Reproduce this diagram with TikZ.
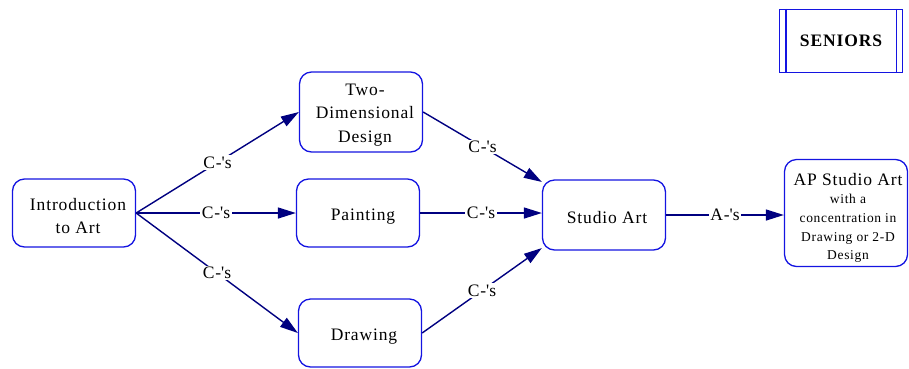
\documentclass[tikz,border=0pt]{standalone}
\usepackage{fontspec}
\setmainfont{Liberation Serif}[LetterSpace=5]
\usepackage{xcolor}
\usepackage{tikz}
\usetikzlibrary{arrows.meta}

\definecolor{courseblue}{RGB}{20,20,225}
\definecolor{pathnavy}{RGB}{0,0,128}

\tikzset{
    course/.style={draw=courseblue, line width=1.3pt, rounded corners=12pt,
        minimum width=123pt, minimum height=#1, inner sep=0pt},
    coursetext/.style={align=center, inner sep=0pt,
        font=\fontsize{17.5}{23.5}\selectfont},
    prereq/.style={draw=pathnavy, line width=1.4pt,
        -{Triangle[length=18pt, width=11pt]}},
    grade/.style={fill=white, inner sep=1.5pt, text=black,
        font=\fontsize{17.5}{20}\selectfont}
}

\begin{document}
\begin{tikzpicture}[x=1pt, y=-1pt]
    \useasboundingbox (0,0) rectangle (909,368);

    % Course boxes
    \node[course=68pt] (intro) at (74,213) {};
    \node[course=80pt] (twodim) at (361,112) {};
    \node[course=68pt] (painting) at (358,213) {};
    \node[course=68pt] (drawing) at (360,333) {};
    \node[course=70pt] (studio) at (604,215) {};
    \node[course=107pt] (apstudio) at (846,213) {};

    % Course names, set a little right of and below the box centres
    \node[coursetext] (introtext) at ([shift={(4,3)}]intro) {Introduction\\to Art};
    \node[coursetext] (twodimtext) at ([shift={(4,3)}]twodim) {Two-\\Dimensional\\Design};
    \node[coursetext] (paintingtext) at ([shift={(5,3.5)}]painting) {Painting};
    \node[coursetext] (drawingtext) at ([shift={(4,3.5)}]drawing) {Drawing};
    \node[coursetext] (studiotext) at ([shift={(3,3)}]studio) {Studio Art};
    \node[coursetext, font=\fontsize{13.5}{18.8}\selectfont] (apstudiotext) at ([shift={(2,5)}]apstudio)
        {{\fontsize{17.5}{19}\selectfont AP Studio Art}\\[-0.5pt]with a\\concentration in\\Drawing or 2-D\\Design};

    % Seniors box with the double side bars
    \node[draw=courseblue, line width=1.3pt, minimum width=123pt, minimum height=63pt,
          font=\fontsize{17.5}{20}\selectfont\bfseries] (seniors) at (841,41) {SENIORS};
    \draw[courseblue, line width=1.3pt] ([xshift=7pt]seniors.north west) -- ([xshift=7pt]seniors.south west);
    \draw[courseblue, line width=1.3pt] ([xshift=-7pt]seniors.north east) -- ([xshift=-7pt]seniors.south east);

    % First year choices
    \draw[prereq] (intro.east) -- node[grade] {C-\textquotesingle{}s} (twodim.west);
    \draw[prereq] (intro.east) -- node[grade] {C-\textquotesingle{}s} (painting.west);
    \draw[prereq] (intro.east) -- node[grade] {C-\textquotesingle{}s} (drawing.west);

    % On to studio art
    \draw[prereq] (twodim.east) -- node[grade] {C-\textquotesingle{}s} (studio.152);
    \draw[prereq] (painting.east) -- node[grade] {C-\textquotesingle{}s} (studio.west |- painting.east);
    \draw[prereq] (drawing.east) -- node[grade] {C-\textquotesingle{}s} (studio.208);

    % AP level
    \draw[prereq] (studio.east) -- node[grade] {A-\textquotesingle{}s} (apstudio.west |- studio.east);
\end{tikzpicture}
\end{document}
